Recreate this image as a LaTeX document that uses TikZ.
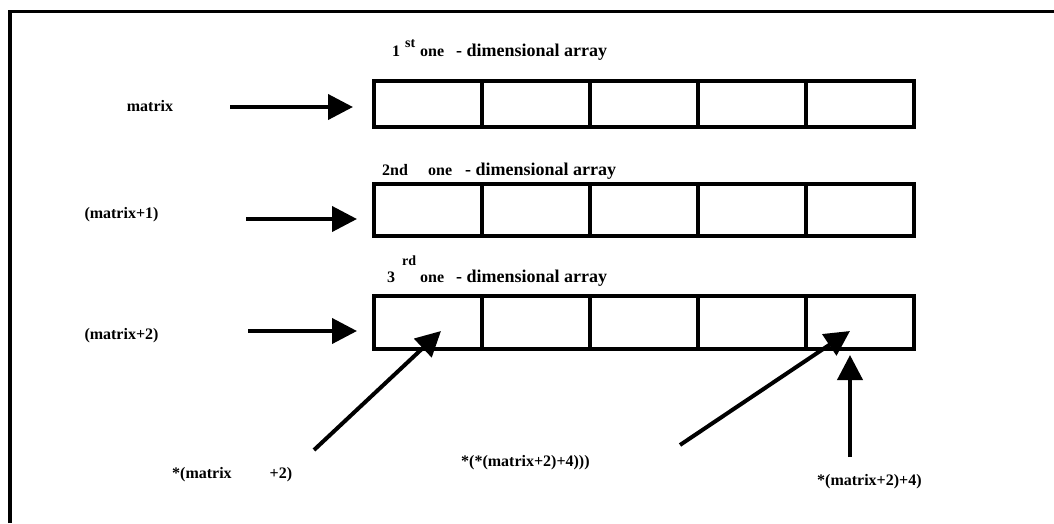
\documentclass[tikz,border=0pt]{standalone}
\usepackage{fontspec}
\setmainfont{Liberation Serif}
\usetikzlibrary{arrows.meta}
\tikzset{cell/.style={draw,line width=3.5pt,minimum width=108pt,inner sep=0pt,outer sep=0pt}}
\tikzset{lbl/.style={inner sep=0pt,font=\bfseries\fontsize{16}{19}\selectfont}}
\tikzset{widelbl/.style={inner sep=0pt,font=\bfseries\fontsize{18}{21}\selectfont}}
\tikzset{suplbl/.style={inner sep=0pt,font=\bfseries\fontsize{14}{16}\selectfont}}
\tikzset{ptr/.style={line width=4pt,-{Triangle[length=25pt,width=25pt]}}}

\begin{document}
\begin{tikzpicture}[x=1pt,y=-1pt]
\useasboundingbox (0,0) rectangle (1054,523);
\draw[line width=3.5pt] (10,523) -- (10,11.5) -- (1054,11.5);
% first row
\node[cell,minimum height=46pt] (a1) at (428,104){};
\node[cell,minimum height=46pt] (a2) at (536,104){};
\node[cell,minimum height=46pt] (a3) at (644,104){};
\node[cell,minimum height=46pt] (a4) at (752,104){};
\node[cell,minimum height=46pt] (a5) at (860,104){};
% second row
\node[cell,minimum height=52pt] (b1) at (428,210){};
\node[cell,minimum height=52pt] (b2) at (536,210){};
\node[cell,minimum height=52pt] (b3) at (644,210){};
\node[cell,minimum height=52pt] (b4) at (752,210){};
\node[cell,minimum height=52pt] (b5) at (860,210){};
% third row
\node[cell,minimum height=53pt] (c1) at (428,322.5){};
\node[cell,minimum height=53pt] (c2) at (536,322.5){};
\node[cell,minimum height=53pt] (c3) at (644,322.5){};
\node[cell,minimum height=53pt] (c4) at (752,322.5){};
\node[cell,minimum height=53pt] (c5) at (860,322.5){};
% row titles
\node[lbl,anchor=base west] (t1n) at (392,56){1};
\node[suplbl,anchor=base west] (t1s) at (405,47){st};
\node[lbl,anchor=base west] (t1o) at (420,56){one};
\node[widelbl,anchor=base west] (t1d) at (456,56){- dimensional array};
\node[lbl,anchor=base west] (t2n) at (382,175){2nd};
\node[lbl,anchor=base west] (t2o) at (428,175){one};
\node[widelbl,anchor=base west] (t2d) at (465,175){- dimensional array};
\node[lbl,anchor=base west] (t3n) at (387,282){3};
\node[suplbl,anchor=base west] (t3s) at (402,265){rd};
\node[lbl,anchor=base west] (t3o) at (420,282){one};
\node[widelbl,anchor=base west] (t3d) at (456,282){- dimensional array};
% pointer names
\node[lbl,anchor=base] (m0) at (150,111){matrix};
\node[lbl,anchor=base] (m1) at (121.5,218){(matrix+1)};
\node[lbl,anchor=base] (m2) at (121.5,339){(matrix+2)};
\node[lbl,anchor=base west] (e1) at (172,478){*(matrix\hspace{38pt}+2)};
\node[lbl,anchor=base west] (e2) at (461,466){*(*(matrix+2)+4)))};
\node[lbl,anchor=base west] (e3) at (817,485){*(matrix+2)+4)};
% arrow ends
\coordinate (s0) at (230,107);
\coordinate (h0) at (353,107);
\coordinate (s1) at (246,219);
\coordinate (h1) at (357,219);
\coordinate (s2) at (248,331);
\coordinate (h2) at (357,331);
\coordinate (s3) at (314,450);
\coordinate (h3) at (441,331);
\coordinate (s4) at (680,445);
\coordinate (h4) at (850,331);
\coordinate (s5) at (850,457);
\coordinate (h5) at (850,355);
\draw[ptr] (s0) -- (h0);
\draw[ptr] (s1) -- (h1);
\draw[ptr] (s2) -- (h2);
\draw[ptr] (s3) -- (h3);
\draw[ptr] (s4) -- (h4);
\draw[ptr] (s5) -- (h5);
\end{tikzpicture}
\end{document}
